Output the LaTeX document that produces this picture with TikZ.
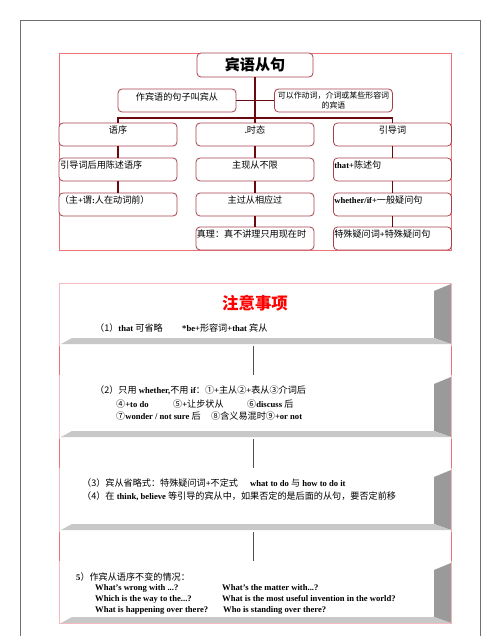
\documentclass[tikz,border=0pt]{standalone}
\usepackage{fontspec}
\setmainfont{Liberation Serif}
\newfontfamily\cjk[Scale=1.06]{Noto Sans CJK SC}
\newcommand\zh[1]{{\cjk\mdseries #1}}
\definecolor{boxred}{HTML}{A8404A}
\definecolor{linkred}{HTML}{6A0A10}
\definecolor{pinkline}{HTML}{F07078}
\definecolor{pinklight}{HTML}{F8B8C0}
\definecolor{framegray}{HTML}{707070}
\definecolor{panelgray}{HTML}{9A9A9A}
\definecolor{shelfgray}{HTML}{C8C8C8}
\definecolor{gapline}{HTML}{505050}
\begin{document}
\begin{tikzpicture}[x=1pt,y=-1pt,
  box/.style={draw=boxred, line width=0.8pt, rounded corners=4pt, minimum width=118pt, minimum height=23pt, inner sep=0pt, fill=white},
  link/.style={draw=linkred, line width=1.6pt},
  btxt/.style={inner sep=0pt, font=\bfseries\fontsize{8.6}{10}\selectfont},
  stxt/.style={inner sep=0pt, anchor=west, font=\bfseries\fontsize{8.6}{10}\selectfont},
  gline/.style={draw=gapline, line width=0.8pt}
]
\useasboundingbox (0,0) rectangle (500,636);
\fill[white] (0,0) rectangle (500,636);
% outer frame
\draw[framegray, line width=0.8pt] (20,640) -- (20,20) -- (480,20) -- (480,640);
% section 1 frame
\draw[pinkline, line width=0.7pt] (59,53) rectangle (451,250);

% boxes
\node[box, minimum width=116pt, minimum height=24pt] (title) at (255,65) {};
\node[font=\cjk\bfseries\fontsize{14.2}{15}\selectfont, inner sep=0pt] (titletext) at (255,65) {宾语从句};
\node[box] (sl) at (177,100.5) {};
\node[box] (sr) at (333.5,100.5) {};
\node[box] (c11) at (118,134.5) {};
\node[box] (c21) at (255,134.5) {};
\node[box] (c31) at (392.5,134.5) {};
\node[box] (c12) at (118,169.5) {};
\node[box] (c22) at (255,169.5) {};
\node[box] (c32) at (392.5,169.5) {};
\node[box] (c13) at (118,204.5) {};
\node[box] (c23) at (255,204.5) {};
\node[box] (c33) at (392.5,204.5) {};
\node[box] (c24) at (255,238.5) {};
\node[box] (c34) at (392.5,238.5) {};

% connectors
\coordinate (jt) at (255,118);
\coordinate (jl) at (118,118);
\coordinate (jr) at (392.5,118);
\draw[link] (title.south) -- (jt);
\draw[link] (sl.east) -- (sr.west);
\draw[link] ([xshift=-0.8pt]jl) -- ([xshift=0.8pt]jr);
\draw[link] (jl) -- (c11.north);
\draw[link] (jt) -- (c21.north);
\draw[link] (jr) -- (c31.north);
\draw[link] (c11.south) -- (c12.north);
\draw[link] (c12.south) -- (c13.north);
\draw[link] (c21.south) -- (c22.north);
\draw[link] (c22.south) -- (c23.north);
\draw[link] (c23.south) -- (c24.north);
\draw[link] (c31.south) -- (c32.north);
\draw[link] (c32.south) -- (c33.north);
\draw[link] (c33.south) -- (c34.north);

% box texts
\node[btxt] (tsl) at ([yshift=-8pt]sl.north) {\zh{作宾语的句子叫宾从}};
\node[inner sep=0pt, align=center, font=\fontsize{7.5}{10.5}\selectfont] (tsr) at ([yshift=-12pt]sr.north) {\zh{可以作动词，介词或某些形容词}\\\zh{的宾语}};
\node[btxt] (t11) at ([yshift=-7.5pt]c11.north) {\zh{语序}};
\node[btxt] (t21) at ([yshift=-7.5pt]c21.north) {.\zh{时态}};
\node[btxt] (t31) at ([yshift=-7.5pt]c31.north) {\zh{引导词}};
\node[btxt, anchor=west] (t12) at ([xshift=1.5pt,yshift=-7.5pt]c12.north west) {\zh{引导词后用陈述语序}};
\node[btxt] (t22) at ([yshift=-7.5pt]c22.north) {\zh{主现从不限}};
\node[btxt, anchor=west] (t32) at ([xshift=1pt,yshift=-7.5pt]c32.north west) {that+\zh{陈述句}};
\node[btxt, anchor=west] (t13) at ([xshift=1pt,yshift=-7.5pt]c13.north west) {\zh{（主}+\zh{谓}:\zh{人在动词前）}};
\node[btxt] (t23) at ([yshift=-7.5pt]c23.north) {\zh{主过从相应过}};
\node[btxt, anchor=west] (t33) at ([xshift=1pt,yshift=-7.5pt]c33.north west) {whether/if+\zh{一般疑问句}};
\node[btxt, anchor=west] (t24) at ([xshift=1pt,yshift=-7.5pt]c24.north west) {\zh{真理：真不讲理只用现在时}};
\node[btxt, anchor=west] (t34) at ([xshift=1pt,yshift=-7.5pt]c34.north west) {\zh{特殊疑问词}+\zh{特殊疑问句}};

% section 2 frame
\draw[pinklight, line width=0.7pt] (59,283) rectangle (451,623);
\foreach \ga/\gb in {346/375, 439/468, 532/561}{
  \draw[pinkline, line width=0.8pt] (59,\ga) -- (59,\gb);
  \draw[pinkline, line width=0.8pt] (451,\ga) -- (451,\gb);
}
% 3D blocks
\foreach \t/\b in {284/344, 377/437, 470/530, 563/623}{
  \fill[panelgray] (434,\t+7) -- (451,\t) -- (451,\b) -- (434,\b-6) -- cycle;
  \fill[shelfgray] (72,\b-6) -- (434,\b-6) -- (451,\b) -- (61,\b) -- cycle;
}
% links between blocks
\coordinate (g1a) at (253,346); \coordinate (g1b) at (253,375);
\coordinate (g2a) at (253,439); \coordinate (g2b) at (253,468);
\coordinate (g3a) at (253,532); \coordinate (g3b) at (253,561);
\draw[gline] (g1a) -- (g1b);
\draw[gline] (g2a) -- (g2b);
\draw[gline] (g3a) -- (g3b);

% section 2 texts
\node[inner sep=0pt, text=red, font=\cjk\bfseries\fontsize{15.5}{16}\selectfont] (head) at (255,303) {注意事项};
\node[stxt] (n1a) at (95,328) {\zh{（1）}that \zh{可省略}};
\node[stxt] (n1b) at (182,328) {*be+\zh{形容词}+that \zh{宾从}};
\node[stxt] (n2a) at (95,390) {\zh{（2）只用} whether,\zh{不用} if\zh{：①}+\zh{主从②}+\zh{表从③介词后}};
\node[stxt] (n2b) at (116,404) {\zh{④}+to do};
\node[stxt] (n2c) at (173,404) {\zh{⑤}+\zh{让步状从}};
\node[stxt] (n2d) at (247,404) {\zh{⑥}discuss \zh{后}};
\node[stxt] (n2e) at (116,416) {\zh{⑦}wonder / not sure \zh{后}};
\node[stxt] (n2f) at (211,416) {\zh{⑧含义易混时⑨}+or not};
\node[stxt] (n3a) at (82,483) {\zh{（3）宾从省略式：特殊疑问词}+\zh{不定式}};
\node[stxt] (n3b) at (250,483) {what to do \zh{与} how to do it};
\node[stxt] (n4) at (82,496) {\zh{（4）在} think, believe \zh{等引导的宾从中，如果否定的是后面的从句，要否定前移}};
\node[stxt] (n5) at (76,577) {5\zh{）作宾从语序不变的情况：}};
\node[stxt] (q1) at (95,588) {What’s wrong with ...?};
\node[stxt] (q2) at (222,588) {What’s the matter with...?};
\node[stxt] (q3) at (95,599) {Which is the way to the...?};
\node[stxt] (q4) at (222,599) {What is the most useful invention in the world?};
\node[stxt] (q5) at (95,610) {What is happening over there?};
\node[stxt] (q6) at (223,610) {Who is standing over there?};
\end{tikzpicture}
\end{document}
